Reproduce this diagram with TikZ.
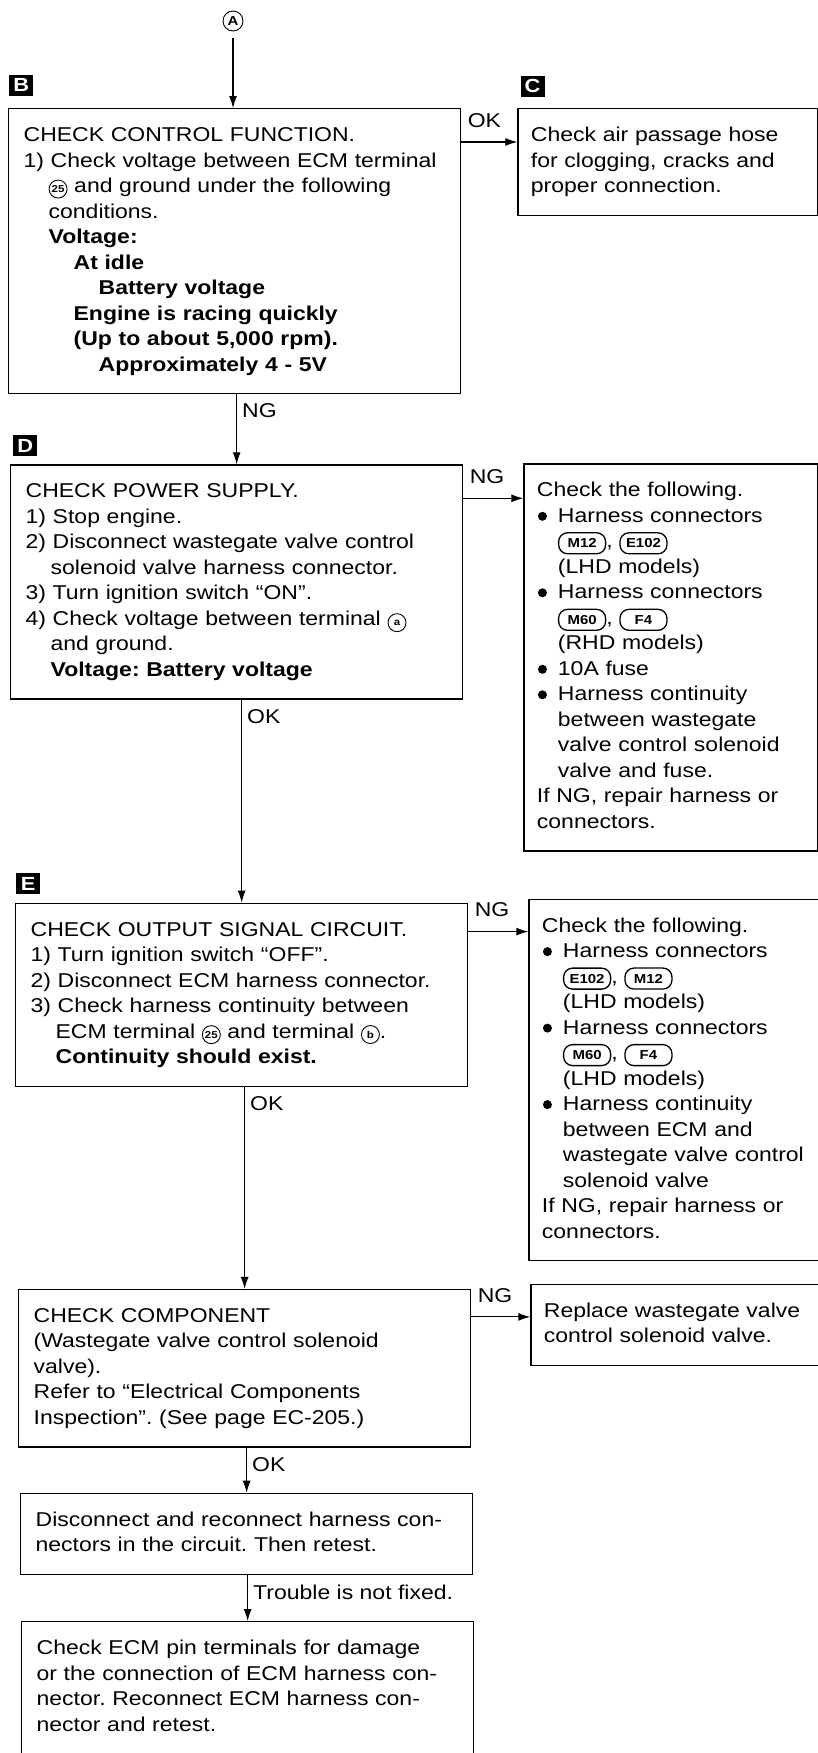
\documentclass[tikz,border=0pt]{standalone}
\usepackage{fontspec}
\setmainfont{Liberation Sans}[FakeStretch=1.15]
\usetikzlibrary{positioning,arrows.meta}
\frenchspacing

\newcommand{\ind}{\hspace*{25pt}}
\newcommand{\bind}{\hspace*{21pt}}
\newcommand{\bul}{\makebox[21pt][l]{\hspace*{1pt}\tikz[baseline=-6pt]\fill (0,0) circle (4.5pt);}}
\newcommand{\circnum}[1]{{\let\strut\relax\tikz[baseline=(cn.base)]\node[draw,circle,text width={},line width=0.9pt,inner sep=0.5pt,minimum size=18pt,font=\bfseries\fontsize{10}{10}\selectfont] (cn) {#1};}}
\newcommand{\conn}[1]{{\let\strut\relax\tikz[baseline=(cn.base)]\node[draw,rounded corners=9pt,text width={},align=center,line width=1.3pt,inner xsep=3pt,inner ysep=2pt,minimum width=47pt,minimum height=21pt,font=\bfseries\fontsize{13}{13}\selectfont] (cn) {#1};}}

\begin{document}
\begin{tikzpicture}[x=1pt,y=-1pt,>={Latex[length=12pt,width=8pt]},
  stepbox/.style={draw,line width=1.3pt,align=left,inner xsep=15pt,inner ysep=15pt,
    text width=422pt,font=\fontsize{20}{25.5}\selectfont,
    execute at begin node=\strut,execute at end node=\strut},
  sidebox/.style={stepbox,inner xsep=13pt,text width=#1},
  conn/.style={->,line width=1.1pt},
  lbl/.style={font=\fontsize{20}{24}\selectfont,inner sep=0pt},
  vlbl/.style={lbl,anchor=north west,xshift=5pt,yshift=-9pt},
  hlbl/.style={lbl,anchor=south west,xshift=6pt,yshift=14pt},
  letter/.style={fill=black,text=white,font=\bfseries\fontsize{19}{19}\selectfont,
    minimum width=24pt,minimum height=21pt,inner sep=0pt},
  circ/.style={draw,circle,line width=0.9pt,inner sep=0.5pt,minimum size=20pt,
    font=\bfseries\fontsize{13}{13}\selectfont}]
  \useasboundingbox (0,0) rectangle (818,1753);

  \node[circ] (nA) at (233,21) {A};

  \node[stepbox,anchor=north west] (boxB) at (8,108) {CHECK CONTROL FUNCTION.\\
    1) Check voltage between ECM terminal\\
    \ind\circnum{25} and ground under the following\\
    \ind conditions.\\
    \ind\textbf{Voltage:}\\
    \ind\ind\textbf{At idle}\\
    \ind\ind\ind\textbf{Battery voltage}\\
    \ind\ind\textbf{Engine is racing quickly}\\
    \ind\ind\textbf{(Up to about 5,000 rpm).}\\
    \ind\ind\ind\textbf{Approximately 4 - 5V}};
  \node[sidebox=274pt,below right=0pt and 56pt of boxB.north east] (boxC) {Check air passage hose\\
    for clogging, cracks and\\
    proper connection.};

  \node[stepbox,below right=70pt and 2pt of boxB.south west] (boxD) {CHECK POWER SUPPLY.\\
    1) Stop engine.\\
    2) Disconnect wastegate valve control\\
    \ind solenoid valve harness connector.\\
    3) Turn ignition switch ``ON''.\\
    4) Check voltage between terminal \circnum{a}\\
    \ind and ground.\\
    \ind\textbf{Voltage: Battery voltage}};
  \node[sidebox=268pt,below right=-1pt and 60pt of boxD.north east] (boxR1) {Check the following.\\
    \bul Harness connectors\\
    \bind\conn{M12}, \conn{E102}\\
    \bind(LHD models)\\
    \bul Harness connectors\\
    \bind\conn{M60}, \conn{F4}\\
    \bind(RHD models)\\
    \bul 10A fuse\\
    \bul Harness continuity\\
    \bind between wastegate\\
    \bind valve control solenoid\\
    \bind valve and fuse.\\
    If NG, repair harness or\\
    connectors.};

  \node[stepbox,below right=203pt and 5pt of boxD.south west] (boxE) {CHECK OUTPUT SIGNAL CIRCUIT.\\
    1) Turn ignition switch ``OFF''.\\
    2) Disconnect ECM harness connector.\\
    3) Check harness continuity between\\
    \ind ECM terminal \circnum{25} and terminal \circnum{b}.\\
    \ind\textbf{Continuity should exist.}};
  \node[sidebox=264pt,below right=-4pt and 60pt of boxE.north east] (boxR2) {Check the following.\\
    \bul Harness connectors\\
    \bind\conn{E102}, \conn{M12}\\
    \bind(LHD models)\\
    \bul Harness connectors\\
    \bind\conn{M60}, \conn{F4}\\
    \bind(LHD models)\\
    \bul Harness continuity\\
    \bind between ECM and\\
    \bind wastegate valve control\\
    \bind solenoid valve\\
    If NG, repair harness or\\
    connectors.};

  \node[stepbox,below right=202pt and 3pt of boxE.south west] (boxF) {CHECK COMPONENT\\
    (Wastegate valve control solenoid\\
    valve).\\
    Refer to ``Electrical Components\\
    Inspection''. (See page EC-205.)};
  \node[sidebox=262pt,below right=-5pt and 59pt of boxF.north east] (boxR3) {Replace wastegate valve\\
    control solenoid valve.};

  \node[stepbox,below right=45pt and 2pt of boxF.south west] (boxG) {Disconnect and reconnect harness con-\\
    nectors in the circuit. Then retest.};
  \node[stepbox,below right=46pt and 1pt of boxG.south west] (boxH) {Check ECM pin terminals for damage\\
    or the connection of ECM harness con-\\
    nector. Reconnect ECM harness con-\\
    nector and retest.};

  % step letters
  \node[letter,above right=12pt and 1pt of boxB.north west] (labB) {B};
  \node[letter,above right=11pt and 3pt of boxC.north west] (labC) {C};
  \node[letter,above right=8pt and 3pt of boxD.north west] (labD) {D};
  \node[letter,above right=8pt and 1pt of boxE.north west] (labE) {E};

  % vertical flow
  \draw[conn,shorten <=7pt] (nA) -- (boxB.north -| nA);
  \draw[conn] (boxB.south -| boxD.north) node[vlbl] (ngB) {NG} -- (boxD.north);
  \draw[conn] (boxD.south -| boxE.north) node[vlbl] (okD) {OK} -- (boxE.north);
  \draw[conn] (boxE.south -| boxF.north) node[vlbl] (okE) {OK} -- (boxF.north);
  \draw[conn] (boxF.south -| boxG.north) node[vlbl] (okF) {OK} -- (boxG.north);
  \draw[conn] (boxG.south -| boxH.north) node[vlbl] (nfG) {Trouble is not fixed.} -- (boxH.north);

  % side branches
  \coordinate (inC) at ([yshift=-34pt]boxC.north west);
  \coordinate (inR1) at ([yshift=-35pt]boxR1.north west);
  \coordinate (inR2) at ([yshift=-33pt]boxR2.north west);
  \coordinate (inR3) at ([yshift=-33pt]boxR3.north west);
  \draw[conn] (boxB.east |- inC) node[hlbl] (okB) {OK} -- (inC);
  \draw[conn] (boxD.east |- inR1) node[hlbl] (ngD) {NG} -- (inR1);
  \draw[conn] (boxE.east |- inR2) node[hlbl] (ngE) {NG} -- (inR2);
  \draw[conn] (boxF.east |- inR3) node[hlbl] (ngF) {NG} -- (inR3);
\end{tikzpicture}
\end{document}
